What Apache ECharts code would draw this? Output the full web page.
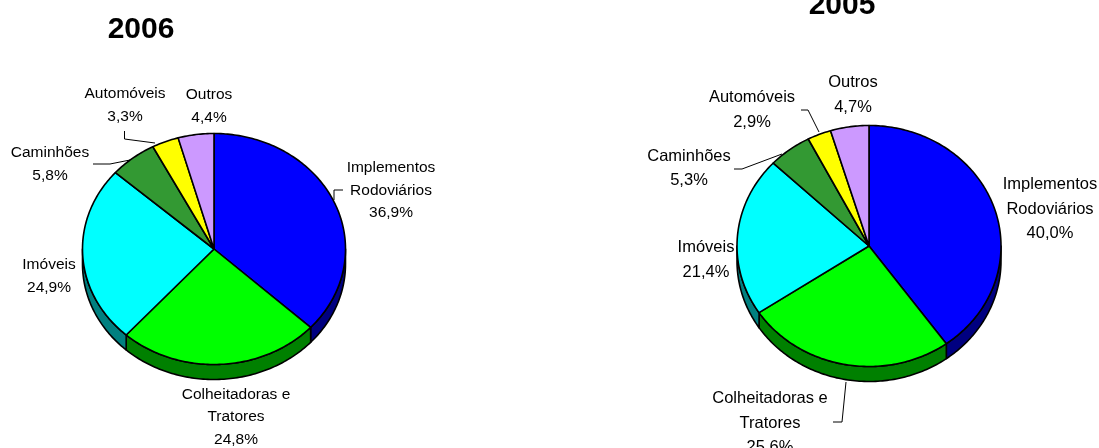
<!DOCTYPE html>
<html>
<head>
<meta charset="utf-8">
<style>html,body{margin:0;padding:0;background:#fff}#c{width:1099px;height:448px}</style>
<script src="https://cdn.jsdelivr.net/npm/echarts@6/dist/echarts.min.js"></script>
</head>
<body>
<div id="c"></div>
<script>
const categories = ['Implementos\nRodoviários', 'Colheitadoras e\nTratores', 'Imóveis', 'Caminhões', 'Automóveis', 'Outros'];
const values2006 = [36.9, 24.8, 24.9, 5.8, 3.3, 4.4];
const values2005 = [40.0, 25.6, 21.4, 5.3, 2.9, 4.7];
const topColors = ['#0000FF', '#00FF00', '#00FFFF', '#339933', '#FFFF00', '#CC99FF'];
const sideColors = ['#000080', '#008000', '#008080', '#1A4D1A', '#808000', '#664D80'];

const panels = [
  { title: '2006', titleX: 141, titleTop: 15, values: values2006, cx: 214, cy: 249, rx: 131.5, ry: 115.5, depth: 15, fontSize: 15.5, lineHeight: 22.7,
    labels: [[391, 190.5], [236, 417], [49, 276.5], [50, 164], [125, 105.5], [209, 106.5]],
    leaders: [[[334, 200], [334, 190], [343, 190]], [[124.5, 131], [124.5, 139], [155, 143]], [[93, 164], [110, 164], [130, 160]]] },
  { title: '2005', titleX: 842, titleTop: -9, values: values2005, cx: 869, cy: 246, rx: 132, ry: 120.5, depth: 15, fontSize: 16.5, lineHeight: 24.5,
    labels: [[1050, 209], [770, 423], [706, 260], [689, 168.5], [752, 110], [853, 95]],
    leaders: [[[801, 110], [808, 110], [819, 132]], [[734, 169], [742, 169], [782, 154]], [[833, 422], [842, 422], [846, 382]]] }
];

const FONT = '"Liberation Sans", Arial, sans-serif';

function point(p, deg, dy) {
  const t = deg * Math.PI / 180;
  return [p.cx + p.rx * Math.sin(t), p.cy - p.ry * Math.cos(t) + (dy || 0)];
}

function makeRenderItem(p) {
  const total = p.values.reduce((a, b) => a + b, 0);
  return function (params, api) {
    const i = params.dataIndex;
    let before = 0;
    for (let k = 0; k < i; k++) before += p.values[k];
    const a0 = before / total * 360;
    const a1 = (before + api.value(0)) / total * 360;
    const children = [];

    // Extruded rim: only the part of the slice on the lower half of the ellipse
    const s0 = Math.max(a0, 90), s1 = Math.min(a1, 270);
    if (s1 > s0) {
      const upper = [], lower = [];
      for (let d = s0; d < s1; d += 1) { upper.push(point(p, d)); lower.push(point(p, d, p.depth)); }
      upper.push(point(p, s1)); lower.push(point(p, s1, p.depth));
      children.push({ type: 'polygon', z2: 1, shape: { points: upper.concat(lower.reverse()) },
        style: { fill: sideColors[i], stroke: '#000', lineWidth: 1.6, lineJoin: 'round' } });
    }

    // Top face
    const pts = [[p.cx, p.cy]];
    for (let d = a0; d < a1; d += 1) pts.push(point(p, d));
    pts.push(point(p, a1));
    children.push({ type: 'polygon', z2: 2, shape: { points: pts },
      style: { fill: topColors[i], stroke: '#000', lineWidth: 1.6, lineJoin: 'round' } });

    // Label
    const pct = api.value(0).toFixed(1).replace('.', ',') + '%';
    children.push({ type: 'text', z2: 3, style: {
      text: categories[i] + '\n' + pct, x: p.labels[i][0], y: p.labels[i][1],
      align: 'center', verticalAlign: 'middle', textAlign: 'center', textVerticalAlign: 'middle',
      fontFamily: FONT, fontSize: p.fontSize, lineHeight: p.lineHeight, fill: '#000' } });

    return { type: 'group', children: children };
  };
}

const chart = echarts.init(document.getElementById('c'), null, { renderer: 'canvas' });
chart.setOption({
  animation: false,
  backgroundColor: '#fff',
  title: panels.map(p => ({
    text: p.title, left: p.titleX, top: p.titleTop, textAlign: 'center', padding: 0,
    textStyle: { fontFamily: FONT, fontSize: 30, fontWeight: 'bold', color: '#000' }
  })),
  graphic: panels.flatMap(p => p.leaders.map(l => ({
    type: 'polyline', z: 1, silent: true, shape: { points: l },
    style: { stroke: '#000', lineWidth: 1, fill: null }
  }))),
  series: panels.map(p => ({
    type: 'custom', coordinateSystem: 'none', name: p.title, z: 2, silent: true, clip: false,
    renderItem: makeRenderItem(p),
    data: p.values.map((v, i) => ({ name: categories[i].replace('\n', ' '), value: [v] }))
  }))
});
</script>
</body>
</html>
